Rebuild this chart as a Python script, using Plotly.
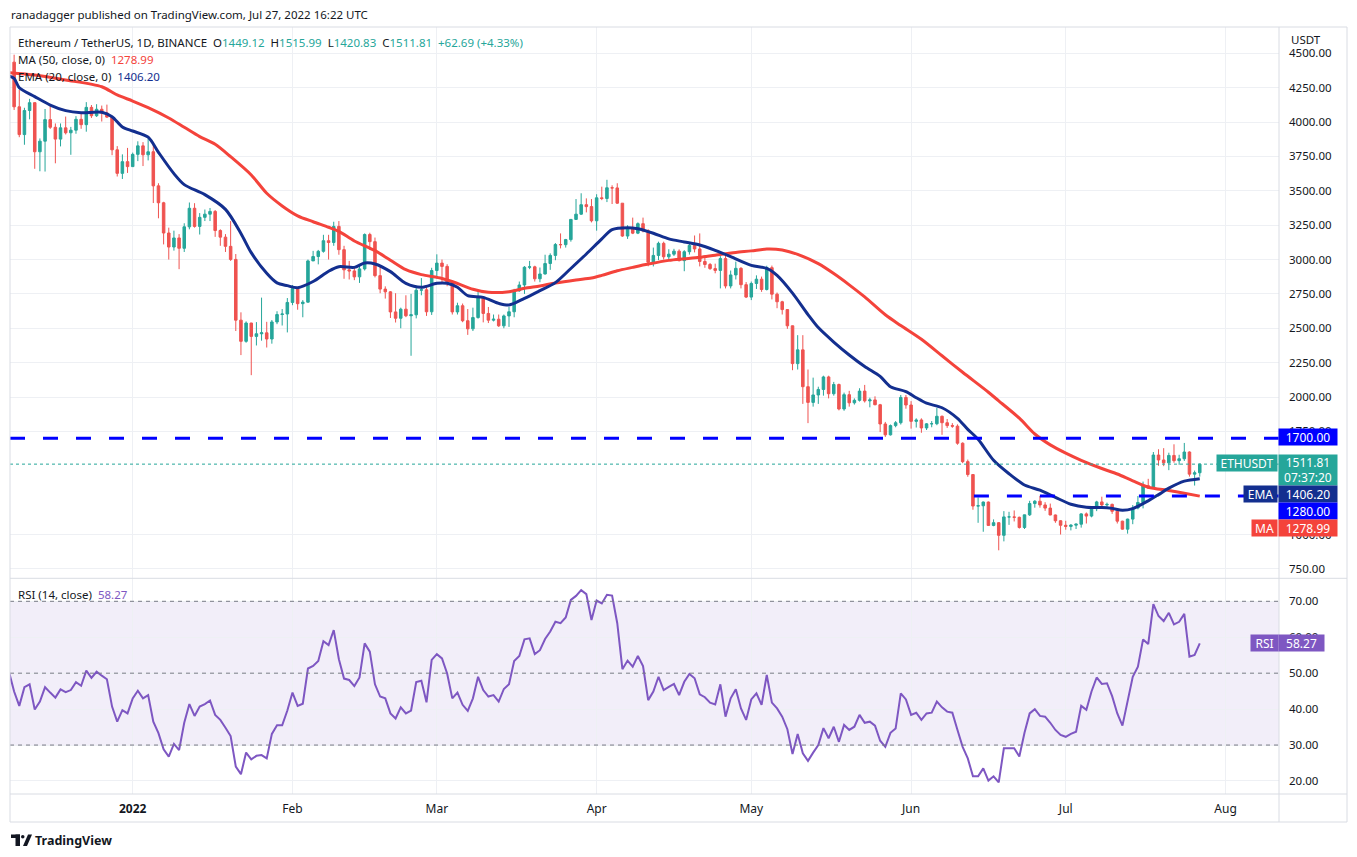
import pandas as pd
import plotly.graph_objects as go
from plotly.subplots import make_subplots

# ETH/USDT daily candles, 9 Dec 2021 -> 27 Jul 2022
first_day = "2021-12-09"

opens = [
    # Dec
    4436, 4111, 3909, 4084, 4141, 3784, 3861, 4018, 3962, 3876, 3958, 3922, 3941, 4020, 3981, 4107,
    4046, 4093, 4066, 4036, 3798, 3627, 3712,
    # Jan
    3676, 3765, 3827, 3762, 3784, 3536, 3413, 3193, 3091, 3157, 3082, 3238, 3373, 3241, 3307, 3330,
    3350, 3211, 3163, 3096, 3001, 2559, 2405, 2538, 2441, 2460, 2467, 2422, 2546, 2600, 2604,
    # Feb
    2688, 2790, 2679, 2690, 2990, 3022, 3060, 3137, 3124, 3241, 3072, 2925, 2917, 2874, 2932, 3182,
    3130, 2883, 2785, 2765, 2619, 2573, 2639, 2591, 2598, 2777, 2780, 2620,
    # Mar
    2920, 2974, 2950, 2834, 2619, 2664, 2555, 2496, 2578, 2727, 2608, 2559, 2566, 2518, 2590, 2620,
    2773, 2815, 2944, 2947, 2860, 2895, 2971, 3030, 3109, 3108, 3145, 3292, 3330, 3399, 3385,
    # Apr
    3282, 3449, 3444, 3522, 3521, 3410, 3171, 3233, 3192, 3261, 3209, 2981, 3030, 3118, 3020, 3039,
    3061, 2992, 3057, 3103, 3077, 2986, 2964, 2934, 2921, 3007, 2808, 2888, 2936, 2817,
    # May
    2727, 2826, 2857, 2782, 2941, 2748, 2693, 2636, 2518, 2243, 2343, 2075, 1961, 2015, 2055, 2146,
    2024, 2091, 1913, 2017, 1958, 1976, 2043, 1972, 1979, 1944, 1804, 1725, 1792, 1813, 1997,
    # Jun
    1942, 1823, 1833, 1775, 1805, 1806, 1860, 1813, 1792, 1788, 1664, 1530, 1436, 1207, 1209, 1236,
    1066, 1086, 994, 1128, 1128, 1125, 1051, 1143, 1225, 1242, 1215, 1192, 1142, 1100,
    # Jul
    1067, 1059, 1068, 1075, 1150, 1134, 1188, 1237, 1215, 1219, 1169, 1097, 1039, 1112, 1193, 1233,
    1355, 1338, 1578, 1542, 1521, 1575, 1537, 1551, 1600, 1439, 1449.12,
]
highs = [
    4490, 4234, 4104, 4169, 4144, 3881, 4095, 4113, 3990, 3990, 4040, 3965, 4043, 4068, 4145, 4124,
    4130, 4120, 4127, 4036, 3825, 3765, 3812,
    3778, 3860, 3854, 3880, 3842, 3555, 3420, 3232, 3210, 3185, 3264, 3415, 3410, 3338, 3364, 3375,
    3360, 3220, 3185, 3280, 3040, 2616, 2550, 2540, 2545, 2723, 2547, 2560, 2624, 2640, 2720,
    2814, 2800, 2705, 3000, 3063, 3070, 3180, 3180, 3275, 3280, 3100, 2990, 2950, 2955, 3190, 3195,
    3160, 2945, 2805, 2770, 2755, 2650, 2740, 2750, 2795, 2865, 2800, 2940,
    3038, 3000, 2966, 2840, 2686, 2680, 2640, 2650, 2770, 2730, 2655, 2600, 2600, 2600, 2655, 2787,
    2840, 2952, 2990, 2955, 2942, 3035, 3045, 3120, 3190, 3150, 3295, 3440, 3482, 3445, 3440,
    3475, 3530, 3580, 3540, 3555, 3410, 3250, 3305, 3270, 3305, 3220, 3087, 3130, 3130, 3075, 3078,
    3074, 3068, 3125, 3175, 3190, 3030, 2975, 2970, 3025, 3040, 2920, 2985, 2945, 2836,
    2840, 2885, 2876, 2955, 2956, 2760, 2700, 2640, 2520, 2450, 2450, 2200, 2141, 2075, 2155, 2155,
    2110, 2098, 2032, 2045, 1990, 2064, 2088, 1995, 2005, 1950, 1819, 1800, 1825, 2015, 2015,
    1970, 1845, 1845, 1810, 1825, 1920, 1865, 1840, 1810, 1801, 1670, 1545, 1437, 1270, 1240, 1240,
    1110, 1090, 1170, 1165, 1175, 1130, 1142, 1245, 1250, 1280, 1235, 1225, 1145, 1104,
    1100, 1075, 1080, 1155, 1160, 1190, 1245, 1275, 1232, 1225, 1170, 1100, 1115, 1214, 1280, 1385,
    1405, 1600, 1620, 1628, 1595, 1656, 1580, 1666, 1605, 1465, 1515.99,
]
lows = [
    4088, 3890, 3835, 4020, 3660, 3642, 3640, 3950, 3700, 3823, 3910, 3762, 3915, 3951, 3930, 4030,
    4037, 4004, 4030, 3759, 3604, 3586, 3630,
    3675, 3716, 3680, 3721, 3411, 3300, 3110, 3000, 3065, 2930, 3055, 3220, 3232, 3182, 3280, 3280,
    3165, 3100, 3055, 2990, 2480, 2305, 2395, 2159, 2375, 2410, 2360, 2388, 2530, 2520, 2470,
    2668, 2635, 2580, 2687, 2990, 2965, 3050, 3000, 3100, 3035, 2860, 2855, 2850, 2830, 2920, 3070,
    2870, 2755, 2716, 2575, 2542, 2500, 2581, 2300, 2572, 2740, 2590, 2597,
    2862, 2830, 2806, 2600, 2600, 2544, 2452, 2480, 2570, 2543, 2538, 2550, 2510, 2500, 2510, 2580,
    2765, 2750, 2930, 2840, 2835, 2891, 2925, 2995, 3081, 3087, 3130, 3288, 3325, 3343, 3270,
    3210, 3432, 3418, 3404, 3405, 3165, 3150, 3185, 3185, 3198, 2951, 2950, 2996, 3000, 3000, 3026,
    2986, 2915, 3036, 3052, 2950, 2940, 2925, 2900, 2790, 2790, 2790, 2855, 2790, 2720,
    2705, 2786, 2765, 2775, 2710, 2646, 2600, 2496, 2195, 2200, 1950, 1810, 1930, 1950, 2010, 1990,
    2010, 1903, 1900, 1930, 1945, 1967, 1960, 1925, 1940, 1745, 1710, 1720, 1780, 1800, 1915,
    1770, 1778, 1740, 1760, 1780, 1795, 1725, 1775, 1776, 1653, 1519, 1420, 1180, 1085, 1020, 1062,
    1060, 885, 950, 1070, 1095, 1043, 1040, 1135, 1195, 1195, 1172, 1140, 1085, 1000,
    1035, 1030, 1040, 1050, 1080, 1125, 1170, 1195, 1204, 1150, 1080, 1036, 1006, 1075, 1183, 1190,
    1335, 1336, 1500, 1497, 1468, 1522, 1507, 1535, 1421, 1356, 1420.83,
]
closes = [
    4111, 3909, 4084, 4141, 3784, 3861, 4018, 3962, 3876, 3958, 3922, 3941, 4020, 3981, 4107, 4046,
    4093, 4066, 4036, 3798, 3627, 3712, 3676,
    3765, 3827, 3762, 3784, 3536, 3413, 3193, 3091, 3157, 3082, 3238, 3373, 3241, 3307, 3330, 3350,
    3211, 3163, 3096, 3001, 2559, 2405, 2538, 2441, 2460, 2467, 2422, 2546, 2600, 2604, 2688,
    2790, 2679, 2690, 2990, 3022, 3060, 3137, 3124, 3241, 3072, 2925, 2917, 2874, 2932, 3182, 3130,
    2883, 2785, 2765, 2619, 2573, 2639, 2591, 2598, 2777, 2780, 2620, 2920,
    2974, 2950, 2834, 2619, 2664, 2555, 2496, 2578, 2727, 2608, 2559, 2566, 2518, 2590, 2620, 2773,
    2815, 2944, 2947, 2860, 2895, 2971, 3030, 3109, 3108, 3145, 3292, 3330, 3399, 3385, 3282,
    3449, 3444, 3522, 3521, 3410, 3171, 3233, 3192, 3261, 3209, 2981, 3030, 3118, 3020, 3039, 3061,
    2992, 3057, 3103, 3077, 2986, 2964, 2934, 2921, 3007, 2808, 2888, 2936, 2817, 2727,
    2826, 2857, 2782, 2941, 2748, 2693, 2636, 2518, 2243, 2343, 2075, 1961, 2015, 2055, 2146, 2024,
    2091, 1913, 2017, 1958, 1976, 2043, 1972, 1979, 1944, 1804, 1725, 1792, 1813, 1997, 1942,
    1823, 1833, 1775, 1805, 1806, 1860, 1813, 1792, 1788, 1664, 1530, 1436, 1207, 1209, 1236, 1066,
    1086, 994, 1128, 1128, 1125, 1051, 1143, 1225, 1242, 1215, 1192, 1142, 1100, 1067,
    1059, 1068, 1075, 1150, 1134, 1188, 1237, 1215, 1219, 1169, 1097, 1039, 1112, 1193, 1233, 1355,
    1338, 1578, 1542, 1521, 1575, 1537, 1551, 1600, 1439, 1449.12, 1511.81,
]

# RSI(14), one value per day starting one day before the first candle
rsi_first_day = "2021-12-08"
rsi = [
    50.4,
    44.9, 40.9, 46.1, 46.9, 39.9, 42.1, 46.1, 44.6, 43.2, 45.5, 44.7, 45.3, 47.5, 46.5, 50.7, 48.7,
    50.4, 49.3, 48.3, 40.7, 36.5, 39.7, 38.8,
    43.0, 45.1, 43.0, 43.9, 36.5, 33.3, 28.8, 26.8, 30.3, 28.6, 36.2, 41.4, 38.1, 40.7, 41.4, 42.4,
    38.4, 37.0, 34.8, 32.5, 24.0, 21.9, 27.9, 26.0, 27.0, 27.2, 26.3, 33.1, 35.5, 35.5, 39.6,
    44.6, 40.9, 41.5, 51.3, 52.0, 53.4, 58.9, 57.8, 62.0, 53.9, 48.5, 48.1, 46.4, 48.8, 58.3, 56.0,
    46.9, 43.5, 43.0, 38.8, 37.4, 40.5, 38.8, 39.6, 47.5, 47.9, 41.9, 53.7,
    55.3, 54.1, 49.9, 43.0, 44.6, 41.2, 39.5, 43.0, 49.0, 45.3, 43.5, 43.9, 42.1, 45.6, 46.9, 53.4,
    54.8, 59.4, 59.7, 55.3, 56.4, 59.5, 61.6, 64.3, 63.9, 65.5, 70.4, 71.5, 73.1, 72.0, 64.8,
    70.2, 69.4, 71.8, 71.6, 63.9, 51.1, 53.5, 51.8, 54.8, 52.0, 42.5, 44.9, 49.0, 45.3, 46.2, 47.0,
    43.9, 47.6, 49.8, 48.6, 44.1, 43.3, 41.8, 41.3, 46.9, 37.9, 43.0, 45.5, 40.2, 37.0,
    42.7, 44.4, 41.2, 49.5, 41.8, 40.2, 37.9, 34.4, 27.5, 33.1, 27.7, 25.6, 27.9, 30.0, 34.7, 31.9,
    35.1, 30.9, 35.6, 34.2, 35.1, 38.4, 36.2, 36.5, 35.4, 31.2, 29.5, 33.4, 34.6, 44.4, 42.7,
    38.4, 39.0, 37.0, 38.8, 39.0, 42.1, 40.5, 39.3, 39.0, 34.2, 29.5, 26.3, 21.3, 21.3, 23.5, 20.1,
    21.3, 19.6, 29.1, 29.1, 29.1, 26.8, 33.4, 38.8, 40.0, 38.1, 37.9, 36.2, 34.2, 32.8,
    32.3, 33.1, 33.7, 40.9, 39.8, 44.9, 48.8, 47.0, 47.2, 43.6, 38.8, 35.4, 42.5, 49.0, 51.8, 59.4,
    58.1, 69.2, 65.9, 64.5, 66.8, 63.6, 64.3, 66.5, 54.6, 55.1, 58.27,
]

# MA(50)
ma_days = [
    "2021-12-08", "2021-12-13", "2021-12-19", "2021-12-26", "2021-12-29", "2022-01-01", "2022-01-04",
    "2022-01-08", "2022-01-11", "2022-01-14", "2022-01-17", "2022-01-20", "2022-01-24", "2022-01-27",
    "2022-01-30", "2022-02-02", "2022-02-05", "2022-02-08", "2022-02-10", "2022-02-13", "2022-02-17",
    "2022-02-20", "2022-02-23", "2022-02-26", "2022-03-02", "2022-03-05", "2022-03-08", "2022-03-11",
    "2022-03-15", "2022-03-18", "2022-03-21", "2022-03-24", "2022-03-28", "2022-03-31", "2022-04-02",
    "2022-04-05", "2022-04-08", "2022-04-11", "2022-04-15", "2022-04-18", "2022-04-21", "2022-04-24",
    "2022-04-28", "2022-05-01", "2022-05-04", "2022-05-07", "2022-05-10", "2022-05-14", "2022-05-17",
    "2022-05-20", "2022-05-23", "2022-05-27", "2022-05-30", "2022-06-03", "2022-06-07", "2022-06-11",
    "2022-06-16", "2022-06-18", "2022-06-22", "2022-06-25", "2022-06-28", "2022-07-01", "2022-07-04",
    "2022-07-08", "2022-07-11", "2022-07-14", "2022-07-17", "2022-07-21", "2022-07-24", "2022-07-27",
]
ma50 = [
    4360, 4342, 4306, 4257, 4197, 4153, 4105,
    4030, 3962, 3894, 3838, 3748, 3615, 3482,
    3390, 3318, 3275, 3235, 3205, 3135, 3065,
    2995, 2926, 2890, 2862, 2826, 2784, 2762,
    2766, 2791, 2808, 2830, 2852, 2866, 2885,
    2918, 2943, 2967, 2994, 3005, 3016, 3032,
    3052, 3063, 3077, 3070, 3038, 2970, 2898,
    2816, 2728, 2598, 2520, 2420, 2300, 2180,
    2035, 1972, 1846, 1731, 1652, 1592, 1540,
    1480, 1440, 1390, 1344, 1320, 1300, 1278.99,
]

# EMA(20)
ema_days = [
    "2021-12-08", "2021-12-09", "2021-12-10", "2021-12-13", "2021-12-16", "2021-12-19", "2021-12-22",
    "2021-12-26", "2021-12-28", "2021-12-30", "2022-01-01", "2022-01-04", "2022-01-06", "2022-01-09",
    "2022-01-11", "2022-01-15", "2022-01-19", "2022-01-22", "2022-01-24", "2022-01-27", "2022-01-29",
    "2022-01-31", "2022-02-02", "2022-02-05", "2022-02-08", "2022-02-10", "2022-02-13", "2022-02-15",
    "2022-02-17", "2022-02-20", "2022-02-23", "2022-02-26", "2022-03-01", "2022-03-03", "2022-03-05",
    "2022-03-07", "2022-03-10", "2022-03-13", "2022-03-15", "2022-03-18", "2022-03-21", "2022-03-24",
    "2022-03-27", "2022-03-30", "2022-04-02", "2022-04-04", "2022-04-07", "2022-04-09", "2022-04-12",
    "2022-04-15", "2022-04-18", "2022-04-21", "2022-04-24", "2022-04-27", "2022-05-01", "2022-05-04",
    "2022-05-06", "2022-05-09", "2022-05-12", "2022-05-14", "2022-05-17", "2022-05-20", "2022-05-23",
    "2022-05-26", "2022-05-28", "2022-05-31", "2022-06-02", "2022-06-04", "2022-06-07", "2022-06-10",
    "2022-06-12", "2022-06-14", "2022-06-17", "2022-06-20", "2022-06-23", "2022-06-26", "2022-06-29",
    "2022-07-02", "2022-07-05", "2022-07-08", "2022-07-10", "2022-07-12", "2022-07-14", "2022-07-17",
    "2022-07-19", "2022-07-21", "2022-07-24", "2022-07-27",
]
ema20 = [
    4335, 4318, 4250, 4185, 4124, 4083, 4068,
    4071, 4039, 3965, 3935, 3890, 3780, 3625,
    3545, 3472, 3365, 3190, 3050, 2900, 2830,
    2810, 2795, 2840, 2915, 2948, 2943, 2975,
    2968, 2912, 2827, 2798, 2827, 2827, 2798,
    2737, 2725, 2681, 2669, 2718, 2774, 2832,
    2935, 3040, 3150, 3218, 3232, 3224, 3191,
    3150, 3128, 3106, 3067, 3022, 2958, 2936,
    2885, 2756, 2600, 2505, 2400, 2306, 2222,
    2150, 2075, 2040, 1995, 1955, 1922, 1845,
    1765, 1693, 1540, 1442, 1360, 1322, 1270,
    1220, 1198, 1197, 1190, 1176, 1188, 1245,
    1290, 1337, 1388, 1406.20,
]

# horizontal levels drawn by the author
levels = [1700, 1280]
level_from = ["2021-12-08 04:48", "2022-06-13 04:30"]

price_ticks = [750, 1000, 1750, 2000, 2250, 2500, 2750, 3000, 3250, 3500, 3750, 4000, 4250, 4500]
rsi_ticks = [20, 30, 40, 50, 60, 70]
month_ticks = ["2022-01-01", "2022-02-01", "2022-03-01", "2022-04-01",
               "2022-05-01", "2022-06-01", "2022-07-01", "2022-08-01"]
month_labels = ["<b>2022</b>", "Feb", "Mar", "Apr", "May", "Jun", "Jul", "Aug"]

FONT = "Noto Sans"
TXT = "#131722"
UP = "#26a69a"
DOWN = "#ef5350"
MA_RED = "#f4433b"
EMA_NAVY = "#132f8f"
LEVEL_BLUE = "#0000ff"
PURPLE = "#7e57c2"
GRID = "#eef0f4"
BORDER = "#d9dce3"

# page body has an 8px margin, so the figure is drawn 8px smaller on each side
W, H = 1341, 840
L, T = 2, 19
PW, PH = 1269, 767
R, B = W - L - PW, H - T - PH
split = (794 - 578.3) / PH


def px_x(x):
    # x in page pixels -> paper fraction
    return (x - 10) / PW


def px_y(y):
    return (794 - y) / PH


days = pd.date_range(first_day, periods=len(closes), freq="D")
rsi_days = pd.date_range(rsi_first_day, periods=len(rsi), freq="D")
x_left, x_right = "2021-12-08 04:48", "2022-08-11 08:53"

fig = make_subplots(rows=2, cols=1, shared_xaxes=True, vertical_spacing=0)

fig.add_trace(go.Candlestick(
    x=days, open=opens, high=highs, low=lows, close=closes,
    increasing=dict(line=dict(color=UP, width=1), fillcolor=UP),
    decreasing=dict(line=dict(color=DOWN, width=1), fillcolor=DOWN),
    hoverinfo="skip", showlegend=False), row=1, col=1)
fig.add_trace(go.Scatter(x=ma_days, y=ma50, mode="lines", hoverinfo="skip", showlegend=False,
                         line=dict(color=MA_RED, width=3, shape="spline", smoothing=0.8)), row=1, col=1)
fig.add_trace(go.Scatter(x=ema_days, y=ema20, mode="lines", hoverinfo="skip", showlegend=False,
                         line=dict(color=EMA_NAVY, width=3, shape="spline", smoothing=0.8)), row=1, col=1)
fig.add_trace(go.Scatter(x=rsi_days, y=rsi, mode="lines", hoverinfo="skip", showlegend=False,
                         line=dict(color=PURPLE, width=2)), row=2, col=1)

# levels and last price line
for lvl, start in zip(levels, level_from):
    fig.add_shape(type="line", xref="x", yref="y", x0=start, x1=x_right, y0=lvl, y1=lvl,
                  line=dict(color=LEVEL_BLUE, width=3, dash="15px,18px"))
fig.add_shape(type="line", xref="x domain", yref="y", x0=0, x1=1, y0=closes[-1], y1=closes[-1],
              line=dict(color=UP, width=1, dash="dot"))

# RSI band
fig.add_shape(type="rect", xref="x2 domain", yref="y2", x0=0, x1=1, y0=30, y1=70,
              fillcolor="rgba(126,87,194,0.1)", line=dict(width=0), layer="below")
for v in (70, 50, 30):
    fig.add_shape(type="line", xref="x2 domain", yref="y2", x0=0, x1=1, y0=v, y1=v,
                  line=dict(color="#787b86", width=1, dash="4px,4px"))

# frame and separators
frame = dict(color=BORDER, width=1)
fig.add_shape(type="rect", xref="paper", yref="paper", x0=px_x(10), x1=px_x(1347),
              y0=px_y(822), y1=px_y(27), line=frame)
fig.add_shape(type="line", xref="paper", yref="paper", x0=px_x(1279), x1=px_x(1279),
              y0=px_y(822), y1=px_y(27), line=frame)
for yy in (578.3, 794):
    fig.add_shape(type="line", xref="paper", yref="paper", x0=px_x(10), x1=px_x(1347),
                  y0=px_y(yy), y1=px_y(yy), line=frame)

# TradingView logo (rough)
logo = "#131722"
fig.add_shape(type="rect", xref="paper", yref="paper", x0=px_x(11), x1=px_x(20),
              y0=px_y(838), y1=px_y(834.5), fillcolor=logo, line=dict(width=0))
fig.add_shape(type="rect", xref="paper", yref="paper", x0=px_x(15.5), x1=px_x(20),
              y0=px_y(846), y1=px_y(834.5), fillcolor=logo, line=dict(width=0))
fig.add_shape(type="circle", xref="paper", yref="paper", x0=px_x(21), x1=px_x(24.5),
              y0=px_y(838.5), y1=px_y(835), fillcolor=logo, line=dict(width=0))
fig.add_shape(type="path", xref="paper", yref="paper", fillcolor=logo, line=dict(width=0),
              path=f"M {px_x(23)},{px_y(846)} L {px_x(28)},{px_y(834.5)} L {px_x(32)},{px_y(834.5)} "
                   f"L {px_x(27)},{px_y(846)} Z")


def note(text, x, y, size=11.5, color=TXT, xanchor="left"):
    fig.add_annotation(xref="paper", yref="paper", x=px_x(x), y=px_y(y), text=text,
                       showarrow=False, xanchor=xanchor, yanchor="middle",
                       font=dict(family=FONT, size=size, color=color))


def tag(text, xc, yc, w, h, color):
    fig.add_annotation(xref="paper", yref="paper", x=px_x(xc), y=px_y(yc), text=text,
                       showarrow=False, xanchor="center", yanchor="middle", bgcolor=color,
                       width=w, height=h, borderpad=0, align="center",
                       font=dict(family=FONT, size=12, color="white"))


def col(v, c):
    return f"<span style='color:{c}'>{v}</span>"


chg = closes[-1] - closes[-2]
pct = chg / closes[-2] * 100
note("ranadagger published on TradingView.com, Jul 27, 2022 16:22 UTC", 9, 15)
note("Ethereum / TetherUS, 1D, BINANCE  "
     f"O{col(f'{opens[-1]:.2f}', UP)}  H{col(f'{highs[-1]:.2f}', UP)}  "
     f"L{col(f'{lows[-1]:.2f}', UP)}  C{col(f'{closes[-1]:.2f}', UP)}  "
     f"{col(f'+{chg:.2f} (+{pct:.2f}%)', UP)}", 16, 42)
note(f"MA (50, close, 0)  {col(f'{ma50[-1]:.2f}', MA_RED)}", 16, 59.5)
note(f"EMA (20, close, 0)  {col(f'{ema20[-1]:.2f}', EMA_NAVY)}", 16, 76)
note(f"RSI (14, close)  {col(f'{rsi[-1]:.2f}', PURPLE)}", 16, 594)
note("USDT", 1289, 40)
note("<b>TradingView</b>", 33, 840, size=12.5)

tag(f"{levels[0]:.2f}", 1308.3, 437.3, 58, 16, LEVEL_BLUE)
tag("ETHUSDT", 1247, 463.3, 60, 16, UP)
tag(f"{closes[-1]:.2f}<br>07:37:20", 1308.3, 470, 58, 30, UP)
tag("EMA", 1260.5, 494.2, 33, 16, EMA_NAVY)
tag(f"{ema20[-1]:.2f}", 1308.3, 494.2, 58, 16, EMA_NAVY)
tag(f"{levels[1]:.2f}", 1308.3, 510.7, 58, 16, LEVEL_BLUE)
tag("MA", 1264.3, 528.3, 25, 16, MA_RED)
tag(f"{ma50[-1]:.2f}", 1308.3, 528.3, 58, 16, MA_RED)
tag("RSI", 1264, 643.3, 27, 16, PURPLE)
tag(f"{rsi[-1]:.2f}", 1301.8, 643.3, 45, 16, PURPLE)

axis_font = dict(family=FONT, size=11.5, color=TXT)
fig.update_xaxes(range=[x_left, x_right], tickvals=month_ticks, showgrid=True, gridcolor=GRID,
                 gridwidth=1, zeroline=False, showline=False, ticks="", rangeslider_visible=False)
fig.update_xaxes(showticklabels=False, row=1, col=1)
fig.update_xaxes(ticktext=month_labels, tickfont=dict(family=FONT, size=12, color=TXT),
                 ticklabelstandoff=6, row=2, col=1)

fig.update_layout(
    width=W, height=H,
    margin=dict(l=L, r=R, t=T, b=B),
    paper_bgcolor="white", plot_bgcolor="white",
    font=dict(family=FONT, color=TXT),
    showlegend=False, hovermode=False, dragmode=False,
    yaxis=dict(domain=[split, 1], side="right", range=[681.4, 4691.5], tickvals=price_ticks,
               tickformat=".2f", showgrid=True, gridcolor=GRID, zeroline=False, showline=False,
               ticks="", ticklabelstandoff=9, tickfont=axis_font),
    yaxis2=dict(domain=[0, split], side="right", range=[16.38, 76.4],
                tickvals=rsi_ticks, tickformat=".2f", showgrid=True, gridcolor=GRID,
                zeroline=False, showline=False, ticks="", ticklabelstandoff=9, tickfont=axis_font),
)

fig.write_html("out.html")
